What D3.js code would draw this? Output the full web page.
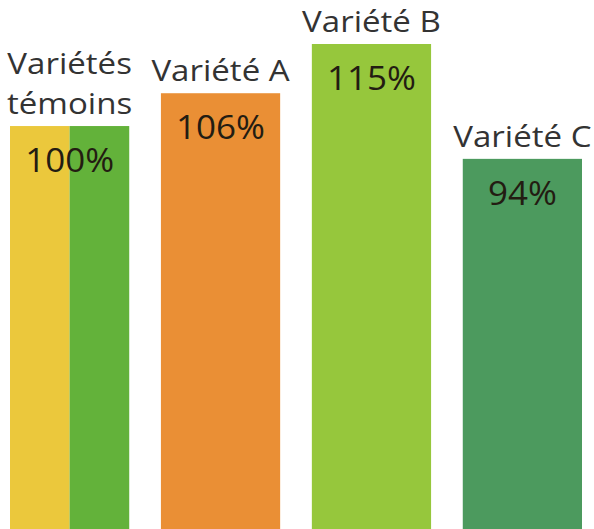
<!DOCTYPE html>
<html>
<head>
<meta charset="utf-8">
<script src="https://cdn.jsdelivr.net/npm/d3@7"></script>
<style>
  body { margin: 0; background: #fff; }
  text { font-family: "Open Sans", sans-serif; }
</style>
</head>
<body>
<svg width="594" height="529"></svg>
<script>
const categories = ["Variétés témoins", "Variété A", "Variété B", "Variété C"];
const labelLines = [["Variétés", "témoins"], ["Variété A"], ["Variété B"], ["Variété C"]];
const values = [100, 106, 115, 94];
const valueLabels = ["100%", "106%", "115%", "94%"];
// the control bar is split in two varieties, both at 100%
const controlParts = ["témoin 1", "témoin 2"];

const colors = ["#63b23a", "#ea8f35", "#96c73c", "#4c9a5e"];
const controlColors = ["#ebc83c", "#63b23a"];

const svg = d3.select("svg");
const width = +svg.attr("width");
const height = +svg.attr("height");

const x = d3.scaleBand()
    .domain(categories)
    .range([10, 582])
    .paddingInner(0.21)
    .paddingOuter(0);

// baseline sits below the frame, bars are cut by the bottom edge
const y = d3.scaleLinear()
    .domain([0, 115])
    .range([673, 44]);

const data = categories.map((c, i) => ({
    cat: c, value: values[i], lines: labelLines[i], label: valueLabels[i], color: colors[i]
}));

const g = svg.append("g");

const bar = g.selectAll(".bar")
    .data(data)
    .enter().append("g")
    .attr("class", "bar")
    .attr("transform", d => "translate(" + x(d.cat) + ",0)");

bar.filter((d, i) => i > 0).append("rect")
    .attr("y", d => y(d.value))
    .attr("width", x.bandwidth())
    .attr("height", d => y(0) - y(d.value))
    .attr("fill", d => d.color);

// control bar: two halves
const xc = d3.scaleBand()
    .domain(controlParts)
    .range([0, x.bandwidth()]);

bar.filter((d, i) => i === 0).selectAll(".part")
    .data(d => controlParts.map((p, j) => ({ part: p, value: d.value, color: controlColors[j] })))
    .enter().append("rect")
    .attr("class", "part")
    .attr("x", d => xc(d.part))
    .attr("y", d => y(d.value))
    .attr("width", xc.bandwidth())
    .attr("height", d => y(0) - y(d.value))
    .attr("fill", d => d.color);

// category names above each bar (the print face is a bit wider)
const lineH = 40;
const name = bar.append("text")
    .attr("class", "name")
    .attr("transform", d => "translate(" + (x.bandwidth() / 2) + "," +
        (y(d.value) - 12 - (d.lines.length - 1) * lineH) + ") scale(1.14,1)")
    .attr("text-anchor", "middle")
    .style("font-size", "29px")
    .style("fill", "#333");

name.selectAll("tspan")
    .data(d => d.lines)
    .enter().append("tspan")
    .attr("x", 0)
    .attr("dy", (t, k) => k === 0 ? 0 : lineH)
    .text(t => t);

// percentage inside the bar
bar.append("text")
    .attr("transform", d => "translate(" + (x.bandwidth() / 2) + "," + (y(d.value) + 46) + ") scale(1.06,1)")
    .attr("text-anchor", "middle")
    .style("font-size", "33px")
    .style("fill", "#231c12")
    .text(d => d.label);
</script>
</body>
</html>
